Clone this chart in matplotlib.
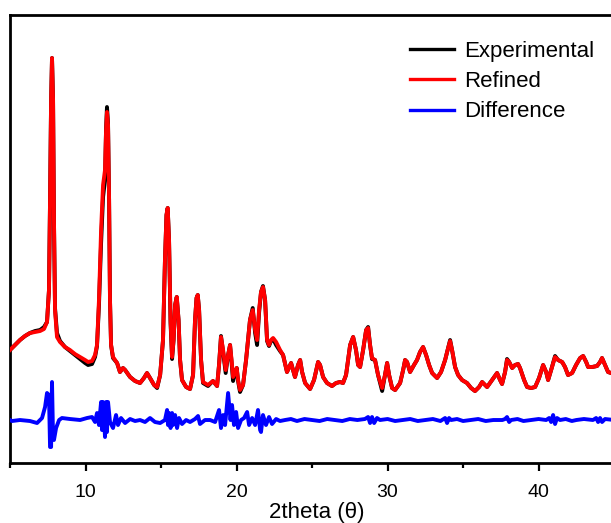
import matplotlib
matplotlib.use('Agg')
import matplotlib.pyplot as plt
import numpy as np

# ------------------------------------------------------------------
# Rietveld refinement plot: observed / calculated / difference
# ------------------------------------------------------------------
FONT = ['Liberation Sans', 'DejaVu Sans']
plt.rcParams['font.family'] = FONT

# calculated (refined) profile, 2theta in degrees, intensity in a.u.
two_theta = [
    5.00, 5.33, 5.66, 5.99, 6.32, 6.66, 6.99, 7.25, 7.45, 7.58,
    7.65, 7.72, 7.78, 7.85, 7.91, 7.98, 8.11, 8.31, 8.64, 8.97,
    9.30, 9.64, 9.97, 10.17, 10.43, 10.63, 10.76, 10.89, 11.03, 11.16,
    11.29, 11.36, 11.42, 11.49, 11.56, 11.62, 11.69, 11.82, 12.09, 12.28,
    12.48, 12.62, 12.95, 13.28, 13.61, 13.87, 14.07, 14.27, 14.54, 14.74,
    14.94, 15.13, 15.26, 15.36, 15.44, 15.53, 15.63, 15.73, 15.83, 15.93,
    16.04, 16.16, 16.26, 16.39, 16.66, 16.92, 17.12, 17.25, 17.35, 17.43,
    17.52, 17.65, 17.78, 18.11, 18.44, 18.71, 18.84, 18.97, 19.11, 19.28,
    19.44, 19.57, 19.67, 19.77, 19.90, 20.01, 20.10, 20.23, 20.43, 20.63,
    20.76, 20.89, 21.07, 21.23, 21.36, 21.49, 21.62, 21.75, 21.89, 22.02,
    22.15, 22.28, 22.42, 22.62, 22.88, 23.08, 23.34, 23.61, 23.87, 24.07,
    24.21, 24.34, 24.54, 24.87, 25.13, 25.40, 25.53, 25.73, 25.99, 26.32,
    26.59, 26.85, 27.05, 27.25, 27.52, 27.72, 27.91, 28.05, 28.18, 28.38,
    28.58, 28.71, 28.84, 28.97, 29.17, 29.37, 29.64, 29.83, 29.97, 30.10,
    30.30, 30.50, 30.83, 31.03, 31.16, 31.29, 31.49, 31.75, 31.95, 32.15,
    32.35, 32.55, 32.75, 32.95, 33.28, 33.54, 33.81, 34.01, 34.14, 34.27,
    34.47, 34.67, 34.93, 35.26, 35.53, 35.79, 36.06, 36.26, 36.46, 36.59,
    36.92, 37.25, 37.45, 37.58, 37.78, 37.91, 38.05, 38.25, 38.44, 38.64,
    38.77, 39.04, 39.24, 39.50, 39.77, 40.03, 40.30, 40.50, 40.63, 40.83,
    41.09, 41.29, 41.56, 41.75, 41.95, 42.22, 42.48, 42.75, 42.95, 43.15,
    43.28, 43.54, 43.87, 44.07, 44.20, 44.40, 44.60, 44.80,
]

calc_int = [
    113, 118, 123, 127, 130, 131, 132, 134, 141, 173,
    263, 363, 405, 363, 243, 153, 126, 121, 116, 113,
    109, 106, 103, 101, 102, 108, 118, 163, 233, 278,
    293, 333, 351, 338, 263, 163, 118, 106, 100, 91,
    95, 93, 86, 82, 80, 85, 90, 85, 78, 76,
    88, 123, 203, 248, 255, 223, 143, 106, 123, 158,
    166, 143, 103, 83, 76, 74, 88, 143, 165, 168,
    153, 103, 81, 78, 82, 77, 98, 126, 113, 93,
    108, 118, 103, 86, 91, 95, 83, 73, 78, 103,
    123, 143, 153, 133, 123, 153, 171, 176, 163, 123,
    118, 123, 125, 121, 113, 108, 91, 100, 86, 98,
    103, 91, 80, 74, 83, 101, 98, 86, 80, 77,
    80, 81, 80, 88, 118, 126, 113, 98, 96, 113,
    133, 135, 118, 105, 103, 88, 75, 88, 100, 88,
    75, 73, 80, 93, 103, 101, 91, 98, 103, 111,
    116, 108, 98, 90, 85, 91, 103, 115, 122, 113,
    96, 88, 83, 80, 75, 72, 76, 81, 78, 76,
    83, 90, 83, 79, 91, 103, 101, 95, 98, 99,
    95, 83, 76, 75, 76, 85, 98, 91, 83, 93,
    106, 103, 101, 96, 88, 90, 98, 105, 107, 101,
    96, 96, 97, 101, 105, 98, 91, 90,
]

# observed profile on the same grid
obs_int = [
    113, 118, 123, 127, 130, 132, 133, 136, 141, 173,
    263, 363, 405, 363, 243, 155, 130, 122, 116, 112,
    108, 104, 100, 98, 99, 106, 117, 158, 220, 266,
    283, 335, 356, 340, 263, 163, 118, 105, 100, 91,
    95, 93, 86, 82, 80, 85, 90, 85, 78, 75,
    88, 123, 203, 248, 255, 223, 140, 104, 123, 158,
    166, 143, 103, 83, 76, 74, 88, 143, 165, 168,
    153, 103, 80, 77, 82, 77, 98, 127, 111, 90,
    108, 118, 101, 82, 90, 95, 82, 71, 78, 103,
    123, 143, 155, 130, 118, 150, 171, 177, 163, 122,
    117, 122, 124, 118, 112, 108, 91, 100, 86, 98,
    103, 91, 80, 74, 83, 101, 98, 86, 80, 77,
    80, 81, 80, 88, 118, 126, 113, 98, 96, 113,
    133, 136, 118, 104, 103, 88, 72, 88, 100, 88,
    75, 73, 80, 93, 103, 101, 91, 98, 103, 111,
    116, 108, 98, 90, 85, 91, 103, 115, 123, 113,
    96, 88, 83, 80, 75, 72, 76, 81, 78, 76,
    83, 90, 83, 79, 91, 104, 101, 95, 98, 99,
    95, 83, 76, 75, 76, 85, 98, 91, 83, 93,
    107, 103, 101, 96, 88, 90, 98, 105, 107, 101,
    96, 96, 97, 101, 105, 98, 91, 90,
]

# difference curve (obs - calc), sampled more finely around the misfits
diff_two_theta = [
    5.00, 5.13, 5.66, 6.32, 6.79, 7.12, 7.32, 7.45, 7.58, 7.65,
    7.72, 7.78, 7.85, 7.91, 8.05, 8.25, 8.44, 8.97, 9.64, 10.10,
    10.43, 10.63, 10.76, 10.89, 11.03, 11.09, 11.16, 11.29, 11.36, 11.42,
    11.49, 11.62, 11.82, 12.02, 12.15, 12.35, 12.62, 12.95, 13.28, 13.61,
    13.94, 14.27, 14.60, 14.94, 15.26, 15.40, 15.46, 15.53, 15.63, 15.73,
    15.79, 15.93, 16.06, 16.19, 16.39, 16.66, 16.92, 17.25, 17.45, 17.58,
    17.91, 18.25, 18.58, 18.84, 18.97, 19.11, 19.24, 19.44, 19.60, 19.70,
    19.83, 19.97, 20.10, 20.30, 20.50, 20.70, 20.83, 21.03, 21.23, 21.42,
    21.56, 21.62, 21.75, 21.95, 22.15, 22.35, 22.62, 22.88, 23.21, 23.60,
    24.00, 24.50, 25.00, 25.50, 26.00, 26.50, 27.00, 27.50, 28.00, 28.50,
    28.71, 28.84, 28.97, 29.11, 29.30, 29.50, 30.00, 30.50, 31.00, 31.50,
    32.00, 32.50, 33.00, 33.50, 33.81, 33.94, 34.07, 34.21, 34.60, 35.00,
    35.50, 36.00, 36.50, 37.00, 37.60, 37.78, 37.91, 38.05, 38.18, 38.60,
    39.00, 39.50, 40.00, 40.50, 40.70, 40.83, 40.96, 41.09, 41.22, 41.42,
    41.80, 42.20, 42.50, 43.00, 43.60, 43.81, 43.94, 44.07, 44.20, 44.40,
    45.00, 45.66,
]

diff_int = [
    0, -1, 0, -1, -3, 2, 13, 27, 25, -27,
    -27, 38, -17, -20, -8, 0, 2, 1, 0, 2,
    3, -2, 7, -5, 18, -10, 18, -17, 18, -12,
    18, -2, -8, 5, -5, 2, -3, 1, -1, 0,
    -2, 2, -2, -3, 0, 10, -5, 7, -8, 7,
    -5, 5, -8, 2, -4, 0, -2, 1, 4, -4,
    0, 0, -2, 10, -8, 5, -5, 27, 0, 15,
    -5, 8, -8, 0, 2, 8, -5, 2, -5, 10,
    -10, -12, 5, -5, 3, -4, 1, -1, 0, 1,
    -1, 1, 0, -1, 1, 0, -1, 1, 0, 1,
    3, -3, 3, -3, 2, 0, 1, -1, 0, 1,
    -1, 0, 1, -1, 2, -3, 2, 0, 1, -1,
    0, 1, -1, 0, 0, 1, 3, -2, 0, 1,
    -1, 0, 1, 0, 2, -2, 5, -4, 2, 0,
    1, -1, 0, 1, 0, 2, -2, 2, -2, 1,
    0, 0,
]

DIFF_OFFSET = 43
X_MIN, X_MAX = 5.0, 45.66
Y_MIN, Y_MAX = 0, 448

fig = plt.figure(figsize=(6.11, 5.23), dpi=100)
ax = fig.add_axes([0.0164, 0.1147, 1.005, 0.8566])

lw = 2.8
ax.plot(two_theta, obs_int, color='#000000', lw=lw, label='Experimental', zorder=2)
ax.plot(two_theta, calc_int, color='#ff0000', lw=lw, label='Refined', zorder=3)
ax.plot(diff_two_theta, np.array(diff_int) + DIFF_OFFSET, color='#0000ff', lw=lw,
        label='Difference', zorder=3)

ax.set_xlim(X_MIN, X_MAX)
ax.set_ylim(Y_MIN, Y_MAX)

ax.set_xticks([10, 20, 30, 40])
ax.set_xticks([5, 15, 25, 35, 45], minor=True)
ax.set_yticks([])
ax.tick_params(axis='x', which='major', direction='out', length=6, width=1.6,
               labelsize=14, pad=9)
ax.tick_params(axis='x', which='minor', direction='out', length=3.5, width=1.6)
for side in ['left', 'bottom', 'top', 'right']:
    ax.spines[side].set_linewidth(2.0)

ax.set_xlabel('2theta (θ)', fontsize=16, labelpad=1)

leg = ax.legend(loc='upper left', bbox_to_anchor=(0.671, 0.922),
                bbox_transform=fig.transFigure, frameon=False, fontsize=16,
                handlelength=2.0, handletextpad=0.45, labelspacing=0.42,
                borderpad=0, borderaxespad=0)
for line in leg.get_lines():
    line.set_linewidth(2.4)

fig.savefig('out.png', dpi=100)
